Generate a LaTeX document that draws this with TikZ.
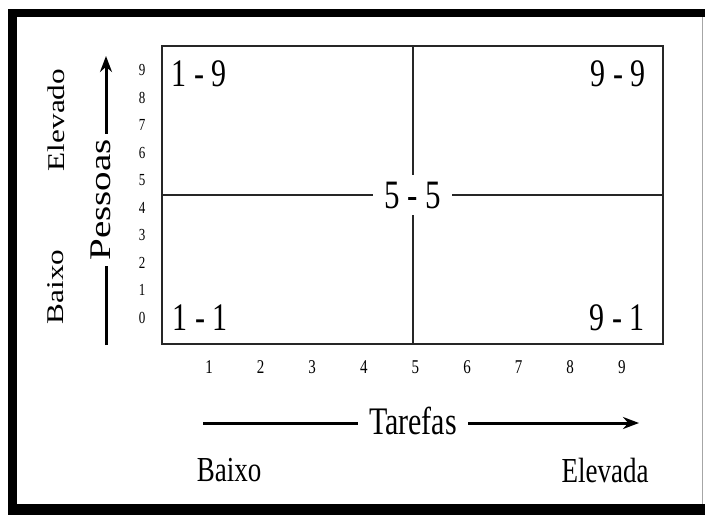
\documentclass[tikz,border=0pt]{standalone}
\usepackage{fontspec}
\usepackage{graphicx}
\setmainfont{Liberation Serif}
\usetikzlibrary{arrows.meta}
\newcommand{\tall}[1]{\scalebox{1}[1.3]{#1}}
\newcommand{\wide}[1]{\scalebox{1.3}[1]{#1}}

\begin{document}
\begin{tikzpicture}[
    x=1pt, y=-1pt,
    chart/.style={
        rectangle, draw=black!85, line width=2pt,
        minimum width=501pt, minimum height=298pt, inner sep=0pt
    },
    divider/.style={draw=black!85, line width=2pt},
    corner/.style={font=\fontsize{30}{30}\selectfont, inner sep=1pt},
    middle/.style={font=\fontsize{31}{31}\selectfont, fill=white, inner xsep=11pt, inner ysep=7pt},
    tick/.style={font=\fontsize{15}{15}\selectfont, inner sep=0pt},
    sidetick/.style={font=\fontsize{13}{13}\selectfont, inner sep=0pt},
    axis/.style={line width=3pt, -{Stealth[length=16pt,width=12pt]}},
    axislabel/.style={font=\fontsize{30}{30}\selectfont, fill=white, inner ysep=0pt},
    level/.style={font=\fontsize{27}{27}\selectfont, inner sep=1pt},
    sidelevel/.style={font=\fontsize{24}{24}\selectfont, rotate=90, inner sep=1pt}
]

\useasboundingbox (0,0) rectangle (705,515);
\fill[white] (0,0) rectangle (705,515);
\fill[black] (8,9) rectangle (705,515);
\fill[white] (17,17) rectangle (705,504);
\draw[black!35, line width=1pt] (702,17) -- (702,504);

\node[chart] (box) at (412.5,195) {};
\draw[divider] (box.north) -- (box.south);
\draw[divider] (box.west) -- (box.east);

\node[corner] (lt) at (199,74) {\tall{1 - 9}};
\node[corner] (rt) at (618,74) {\tall{9 - 9}};
\node[corner] (lb) at (200,318) {\tall{1 - 1}};
\node[corner] (rb) at (617,318) {\tall{9 - 1}};
\node[middle] (mid) at (box.center) {\tall{5 - 5}};

\foreach \n in {1,...,9} {
    \node[tick] (tx\n) at ({209+(\n-1)*51.6}, 367) {\tall{\n}};
}
\foreach \n in {0,...,9} {
    \node[sidetick] (ty\n) at (142, {317.5-\n*27.5}) {\tall{\n}};
}

\coordinate (xstart) at (203,423);
\coordinate (xend) at (639,423);
\draw[axis] (xstart) -- (xend);
\node[axislabel, inner xsep=11pt] (tarefas) at (413,421) {\tall{Tarefas}};

\coordinate (ystart) at (106,345);
\coordinate (yend) at (106,56);
\draw[axis] (ystart) -- (yend);
\node[axislabel, inner xsep=5pt, rotate=90] (pessoas) at (101,200) {\wide{Pessoas}};

\node[level] (xlow) at (229,470) {\tall{Baixo}};
\node[level] (xhigh) at (605,470) {\tall{Elevada}};
\node[sidelevel] (ylow) at (56,287) {\wide{Baixo}};
\node[sidelevel] (yhigh) at (56,120) {\wide{Elevado}};

\end{tikzpicture}
\end{document}
